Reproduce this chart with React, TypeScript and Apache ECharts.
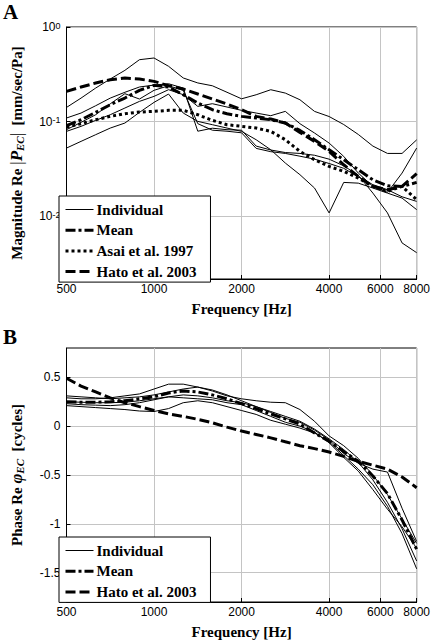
import React, { useEffect, useRef } from 'react';
import * as echarts from 'echarts';

// Frequency grid (Hz), 1/6 octave
const freqs = [500, 561, 630, 707, 794, 891, 1000, 1122, 1260, 1414, 1587, 1782, 2000, 2245, 2520, 2828, 3175, 3564, 4000, 4490, 5040, 5657, 6350, 7127, 8000];

// Panel A: magnitude (mm/sec/Pa)
const magInd1 = [0.141, 0.177, 0.226, 0.282, 0.348, 0.451, 0.470, 0.384, 0.289, 0.256, 0.239, 0.204, 0.174, 0.192, 0.217, 0.200, 0.170, 0.128, 0.113, 0.093, 0.073, 0.055, 0.046, 0.046, 0.064];
const magInd2 = [0.109, 0.123, 0.147, 0.177, 0.204, 0.232, 0.243, 0.251, 0.226, 0.079, 0.085, 0.082, 0.081, 0.055, 0.050, 0.047, 0.046, 0.044, 0.040, 0.034, 0.027, 0.0175, 0.0108, 0.0052, 0.0041];
const magInd3 = [0.082, 0.098, 0.118, 0.154, 0.197, 0.173, 0.214, 0.239, 0.214, 0.095, 0.081, 0.079, 0.076, 0.052, 0.048, 0.046, 0.043, 0.040, 0.036, 0.032, 0.026, 0.0215, 0.019, 0.016, 0.0143];
const magInd4 = [0.0524, 0.0617, 0.0726, 0.0853, 0.0964, 0.125, 0.1595, 0.1954, 0.123, 0.1004, 0.0926, 0.0853, 0.0787, 0.0642, 0.0503, 0.0364, 0.0274, 0.0198, 0.0108, 0.0227, 0.0223, 0.0198, 0.0175, 0.0155, 0.0117];
const magInd5 = [0.0787, 0.0889, 0.1029, 0.1181, 0.139, 0.1634, 0.1846, 0.2172, 0.1923, 0.1447, 0.1544, 0.1424, 0.1313, 0.123, 0.1153, 0.1281, 0.0949, 0.0756, 0.0592, 0.0428, 0.0285, 0.0206, 0.0178, 0.0285, 0.0524];
const magMean = [0.0903, 0.1045, 0.125, 0.1507, 0.1773, 0.2137, 0.2413, 0.2318, 0.1923, 0.1569, 0.1334, 0.121, 0.1134, 0.1089, 0.1045, 0.0964, 0.0806, 0.0642, 0.0503, 0.0395, 0.0309, 0.0242, 0.0209, 0.0206, 0.0227];
const magAsai = [0.0868, 0.0949, 0.1045, 0.1134, 0.121, 0.126, 0.1281, 0.1313, 0.1313, 0.1181, 0.1029, 0.0926, 0.0889, 0.0853, 0.0787, 0.0642, 0.0483, 0.0395, 0.0335, 0.0297, 0.0252, 0.0206, 0.0182, 0.0206, 0.0149];
const magHato = [0.2085, 0.2318, 0.2555, 0.2771, 0.2886, 0.2817, 0.2661, 0.2394, 0.2207, 0.1954, 0.173, 0.1532, 0.1334, 0.1134, 0.1063, 0.0964, 0.0768, 0.0617, 0.0483, 0.0349, 0.0263, 0.0206, 0.019, 0.0206, 0.0281];

// Panel B: phase (cycles)
const phInd1 = [0.29, 0.28, 0.28, 0.29, 0.31, 0.33, 0.38, 0.43, 0.43, 0.40, 0.36, 0.31, 0.28, 0.26, 0.245, 0.24, 0.17, 0.05, -0.10, -0.20, -0.33, -0.50, -0.70, -0.95, -1.20];
const phInd2 = [0.31, 0.30, 0.29, 0.28, 0.29, 0.30, 0.32, 0.35, 0.38, 0.40, 0.37, 0.32, 0.26, 0.20, 0.15, 0.10, 0.05, -0.03, -0.13, -0.24, -0.37, -0.55, -0.78, -1.05, -1.38];
const phInd3 = [0.21, 0.20, 0.19, 0.18, 0.17, 0.155, 0.15, 0.18, 0.24, 0.26, 0.24, 0.20, 0.16, 0.12, 0.06, 0.02, -0.02, -0.07, -0.16, -0.30, -0.44, -0.60, -0.82, -1.10, -1.46];
const phInd4 = [0.25, 0.245, 0.24, 0.24, 0.245, 0.26, 0.28, 0.30, 0.32, 0.31, 0.29, 0.26, 0.24, 0.20, 0.14, 0.08, 0.04, -0.04, -0.14, -0.28, -0.38, -0.44, -0.47, -0.84, -1.18];
const phInd5 = [0.23, 0.22, 0.215, 0.21, 0.22, 0.24, 0.27, 0.30, 0.29, 0.28, 0.27, 0.24, 0.22, 0.16, 0.10, 0.04, 0.00, -0.06, -0.17, -0.32, -0.46, -0.65, -0.85, -1.03, -1.25];
const phMean = [0.25, 0.245, 0.245, 0.25, 0.26, 0.28, 0.30, 0.34, 0.36, 0.35, 0.32, 0.28, 0.23, 0.18, 0.125, 0.075, 0.02, -0.07, -0.155, -0.26, -0.36, -0.51, -0.69, -0.96, -1.26];
const phHato = [0.49, 0.41, 0.35, 0.29, 0.24, 0.20, 0.16, 0.125, 0.10, 0.07, 0.035, -0.01, -0.05, -0.085, -0.12, -0.16, -0.20, -0.23, -0.265, -0.31, -0.36, -0.40, -0.44, -0.52, -0.63];

// Tick values
const freqTicks = [500, 1000, 2000, 4000, 6000, 8000];
const magTicks = [0.01, 0.1, 1];
const phaseTicks = [-1.5, -1, -0.5, 0, 0.5];

const legendA = ['Individual', 'Mean', 'Asai et al. 1997', 'Hato et al. 2003'];
const legendB = ['Individual', 'Mean', 'Hato et al. 2003'];

const SANS = '"Liberation Sans", Arial, sans-serif';
const SERIF = '"Liberation Serif", "Times New Roman", serif';

const pairs = (vals: number[]) => freqs.map((f, i) => [f, vals[i]]);

const styles: Record<string, any> = {
  Individual: { color: '#000', width: 1, type: 'solid' },
  Mean: { color: '#000', width: 3, type: [10, 3, 3, 3], cap: 'butt' },
  'Asai et al. 1997': { color: '#000', width: 3, type: [3, 3], cap: 'butt' },
  'Hato et al. 2003': { color: '#000', width: 3, type: [10, 4], cap: 'butt' },
};

function mkSeries(name: string, vals: number[], idx: number, z: number) {
  return {
    type: 'line',
    name,
    xAxisIndex: idx,
    yAxisIndex: idx,
    data: pairs(vals),
    symbol: 'none',
    showSymbol: false,
    silent: true,
    z,
    lineStyle: styles[name],
    itemStyle: { color: '#000' },
  };
}

function xAxisCfg(gridIndex: number) {
  return {
    type: 'log',
    logBase: 10,
    gridIndex,
    min: 500,
    max: 8000,
    name: 'Frequency [Hz]',
    nameLocation: 'middle',
    nameGap: 22,
    nameTextStyle: { fontFamily: SERIF, fontWeight: 'bold', fontSize: 15, color: '#000' },
    axisLine: { show: true, onZero: false, lineStyle: { color: '#000', width: 1 } },
    axisTick: { show: true, inside: true, length: 4, customValues: freqTicks, lineStyle: { color: '#000' } },
    axisLabel: {
      customValues: freqTicks,
      fontFamily: SANS,
      fontSize: 12,
      color: '#000',
      margin: 4,
      formatter: (v: number) => String(Math.round(v)),
    },
    splitLine: { show: true, lineStyle: { color: '#c4c4c4', width: 1 } },
    minorTick: { show: false },
  };
}

function legendCfg(data: string[], top: number) {
  return {
    data: data.map((n) => ({
      name: n,
      lineStyle: { width: styles[n].width, type: styles[n].type, color: '#000', cap: 'butt' },
      itemStyle: { color: 'rgba(0,0,0,0)', borderColor: 'rgba(0,0,0,0)', borderWidth: 0 },
    })),
    orient: 'vertical',
    left: 59,
    top,
    padding: [6, 14, 3, 5],
    itemGap: 5.7,
    itemWidth: 28,
    itemHeight: 14,
    backgroundColor: '#fff',
    borderColor: '#000',
    borderWidth: 1,
    selectedMode: false,
    textStyle: { fontFamily: SERIF, fontWeight: 'bold', fontSize: 15, lineHeight: 14, color: '#000', padding: [0, 0, 0, -2] },
    z: 10,
  };
}

export default function App() {
  const ref = useRef<HTMLDivElement>(null);
  useEffect(() => {
    if (!ref.current) return;
    const chart = echarts.init(ref.current, undefined, { renderer: 'svg' });
    const nameRich = {
      t: { fontFamily: SERIF, fontWeight: 'bold', fontSize: 15, lineHeight: 15, padding: [0, 0, 3, 0] },
      bar: { fontFamily: SERIF, fontSize: 17, lineHeight: 15, padding: [0, 0, 3, 0] },
      p: { fontFamily: SERIF, fontWeight: 'bold', fontStyle: 'italic', fontSize: 17, lineHeight: 15, padding: [0, 0, 3, 0] },
      sub: { fontFamily: SERIF, fontWeight: 'bold', fontStyle: 'italic', fontSize: 11, lineHeight: 11, verticalAlign: 'bottom' },
    };
    const option: any = {
      animation: false,
      backgroundColor: '#fff',
      color: ['#000'],
      grid: [
        { left: 54, top: 27, width: 365, height: 252, show: true, borderColor: '#000', borderWidth: 1, backgroundColor: 'transparent' },
        { left: 54, top: 348, width: 365, height: 255, show: true, borderColor: '#000', borderWidth: 1, backgroundColor: 'transparent' },
      ],
      xAxis: [xAxisCfg(0), xAxisCfg(1)],
      yAxis: [
        {
          type: 'log',
          logBase: 10,
          gridIndex: 0,
          min: 0.00216,
          max: 1,
          name: '{t|Magnitude Re }{bar||}{p|P}{sub|EC}{bar||}{t|  [mm/sec/Pa]}',
          nameLocation: 'middle',
          nameGap: 41,
          nameTextStyle: { color: '#000', rich: nameRich },
          axisLine: { show: true, onZero: false, lineStyle: { color: '#000' } },
          axisTick: { show: true, inside: true, length: 4, customValues: magTicks, lineStyle: { color: '#000' } },
          axisLabel: {
            customValues: magTicks,
            margin: 6,
            color: '#000',
            formatter: (v: number) => `{b|10}{s|${Math.round(Math.log10(v))}}`,
            rich: {
              b: { fontFamily: SANS, fontSize: 12, lineHeight: 12, padding: [6, 0, 6, 0], color: '#000' },
              s: { fontFamily: SANS, fontSize: 9, lineHeight: 9, verticalAlign: 'top', color: '#000' },
            },
          },
          splitLine: { show: true, lineStyle: { color: '#c4c4c4', width: 1 } },
          minorTick: { show: false },
        },
        {
          type: 'value',
          gridIndex: 1,
          min: -1.8,
          max: 0.8,
          name: '{t|Phase Re }{p|φ}{sub|EC}{t|  [cycles]}',
          nameLocation: 'middle',
          nameGap: 41,
          nameTextStyle: { color: '#000', rich: nameRich },
          axisLine: { show: true, onZero: false, lineStyle: { color: '#000' } },
          axisTick: { show: true, inside: true, length: 4, customValues: phaseTicks, lineStyle: { color: '#000' } },
          axisLabel: {
            customValues: phaseTicks,
            margin: 6,
            fontFamily: SANS,
            fontSize: 12,
            color: '#000',
            formatter: (v: number) => String(v),
          },
          splitLine: { show: true, lineStyle: { color: '#c4c4c4', width: 1 } },
        },
      ],
      legend: [legendCfg(legendA, 196), legendCfg(legendB, 537)],
      graphic: [
        { type: 'text', left: 3, top: 1, style: { text: 'A', font: `bold 21px ${SERIF}`, fill: '#000' } },
        { type: 'text', left: 3, top: 326, style: { text: 'B', font: `bold 21px ${SERIF}`, fill: '#000' } },
      ],
      series: [
        mkSeries('Individual', magInd1, 0, 2),
        mkSeries('Individual', magInd2, 0, 2),
        mkSeries('Individual', magInd3, 0, 2),
        mkSeries('Individual', magInd4, 0, 2),
        mkSeries('Individual', magInd5, 0, 2),
        mkSeries('Mean', magMean, 0, 3),
        mkSeries('Asai et al. 1997', magAsai, 0, 3),
        mkSeries('Hato et al. 2003', magHato, 0, 3),
        mkSeries('Individual', phInd1, 1, 2),
        mkSeries('Individual', phInd2, 1, 2),
        mkSeries('Individual', phInd3, 1, 2),
        mkSeries('Individual', phInd4, 1, 2),
        mkSeries('Individual', phInd5, 1, 2),
        mkSeries('Mean', phMean, 1, 3),
        mkSeries('Hato et al. 2003', phHato, 1, 3),
      ],
    };
    chart.setOption(option);
    return () => chart.dispose();
  }, []);
  return <div ref={ref} style={{ position: 'fixed', left: 0, top: 0, width: 433, height: 640, background: '#fff' }} />;
}
